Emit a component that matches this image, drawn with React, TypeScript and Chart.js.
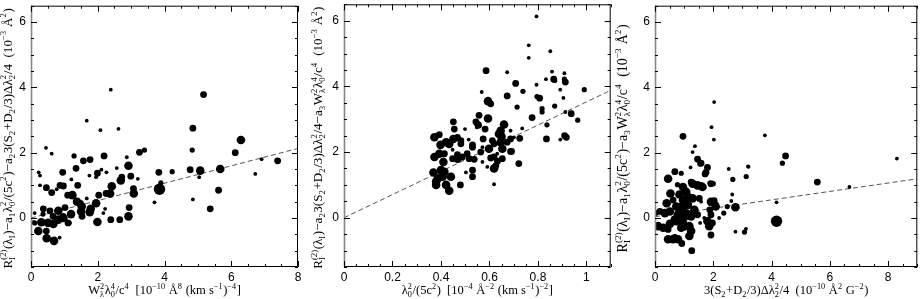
import React, { useEffect, useRef } from 'react';
import { Chart, registerables } from 'chart.js';
Chart.register(...registerables);

type P = [number, number, number]; // x, y, weight class (1..5)

// ---------- Panel 1 : W^2 lambda^4 / c^4 ----------
const panel1Points: P[] = [
  [0.45,2.15,1],[1.67,2.98,1],[2.39,3.93,1],[2.08,2.69,1],[2.62,2.73,1],[5.17,3.78,3],[4.85,2.75,3],[6.29,2.39,4],[3.25,2.01,3],[3.4,2.08,2],[4.83,2.08,2],[6.12,2.0,3],
  [0.62,1.97,1],[1.29,1.9,2],[1.57,1.75,3],[1.77,1.79,3],[2.19,1.9,3],[2.87,1.86,1],[2.92,1.6,4],[2.57,1.53,1],
  [0.23,1.4,1],[0.27,1.3,1],[0.95,1.4,3],[1.35,1.52,3],[1.75,1.3,1],[1.95,1.25,1],[1.99,1.37,3],[2.11,1.48,1],[2.26,1.4,1],[2.69,1.15,4],[2.72,1.25,3],[2.99,1.28,3],[3.2,1.2,1],
  [0.27,1.0,1],[0.46,0.93,3],[0.62,0.78,3],[0.77,0.88,1],[0.87,1.0,3],[0.97,0.98,3],[1.21,1.18,1],[1.4,1.0,3],[1.1,0.7,3],[1.24,0.7,4],[1.38,0.5,4],[1.48,0.45,3],[1.67,0.6,1],[2.03,0.7,3],[2.25,0.75,3],[2.42,0.97,4],[2.37,0.75,4],[3.07,0.9,3],[3.08,0.75,4],
  [1.95,0.45,4],[1.79,0.28,4],[2.22,0.28,1],[2.17,0.15,1],[2.94,0.32,3],[2.92,0.05,4],[2.39,-0.05,3],[1.99,-0.12,4],
  [0.07,-0.13,1],[0.11,0.15,1],[0.37,0.28,3],[0.36,0.12,2],[0.57,0.22,3],[0.66,0.05,3],[0.82,0.22,4],[1.02,0.32,3],[0.96,0.05,3],[1.2,0.12,4],[1.5,0.2,4],[1.52,0.35,4],[1.53,0.05,3],[1.76,0.18,4],[1.17,-0.15,1],[2.66,-0.05,3],
  [0.11,-0.15,2],[0.31,-0.13,4],[0.51,-0.15,4],[0.67,-0.18,4],[0.82,-0.05,4],[0.97,0.0,4],[1.11,-0.15,3],
  [0.22,-0.4,4],[0.46,-0.4,3],[0.47,-0.62,4],[0.69,-0.7,4],[0.86,-0.6,1],
  [3.83,1.4,3],[3.89,1.08,2],[3.85,0.88,5],[3.7,0.48,1],[4.23,1.42,2],[4.77,1.48,3],[5.07,1.45,4],[5.04,1.25,1],[4.85,0.57,1],[5.37,0.28,3],[5.67,1.5,4],[5.62,0.85,3],[6.72,1.35,1],[6.91,1.8,1],[7.39,1.75,3],
];
const fit1X = [0, 8];
const fit1Y = [0.0, 2.13];

// ---------- Panel 2 : lambda^2 / (5c^2) ----------
const panel2Points: P[] = [
  [0.794,6.13,1],[0.762,5.25,1],[0.762,4.87,1],[0.851,5.07,1],[0.586,4.48,3],[0.673,4.43,1],[0.568,3.83,1],[0.708,4.09,3],[0.738,3.85,2],[0.673,3.71,3],[0.794,4.05,1],[0.796,3.69,2],[0.807,3.64,3],[0.833,4.22,1],[0.858,4.45,1],[0.865,4.22,3],[0.869,4.18,2],[0.892,3.9,1],[0.909,4.4,1],[0.909,4.22,2],[0.913,4.13,3],[0.905,3.65,1],[0.991,3.9,2],[0.594,3.55,4],[0.605,3.47,3],[0.714,3.37,2],[0.817,3.32,2],[0.817,3.22,2],[0.869,3.4,2],[0.913,3.22,1],[0.937,3.17,3],[0.964,2.97,2],[0.837,2.83,2],[0.776,3.05,3],[0.557,3.12,3],[0.594,3.02,4],
  [0.451,2.92,3],[0.499,2.7,1],[0.544,2.92,3],[0.555,2.82,3],[0.548,2.75,1],[0.582,2.7,3],[0.66,2.84,4],[0.687,2.65,1],[0.735,2.72,1],[0.646,2.65,4],[0.639,2.55,4],[0.65,2.47,4],[0.373,2.45,4],[0.393,2.53,3],[0.451,2.4,4],[0.468,2.45,3],[0.482,2.35,3],[0.514,2.38,1],[0.574,2.4,3],[0.612,2.35,3],[0.687,2.4,3],[0.701,2.45,1],[0.725,2.42,3],[0.835,2.4,3],[0.91,2.5,3],[0.917,2.45,3],[0.892,2.38,1],
  [0.398,2.22,4],[0.434,2.25,4],[0.482,2.25,3],[0.53,2.22,3],[0.53,2.15,3],[0.571,2.15,1],[0.598,2.1,4],[0.619,2.25,3],[0.653,2.1,4],[0.687,2.02,3],[0.448,2.07,1],
  [0.373,1.85,4],[0.414,1.95,3],[0.448,1.8,3],[0.468,1.92,3],[0.488,1.85,3],[0.508,1.95,3],[0.537,1.78,3],[0.571,1.7,1],[0.605,1.82,3],[0.632,1.95,1],[0.653,1.8,3],[0.626,1.58,3],[0.591,1.55,1],[0.721,1.65,3],[0.369,1.38,4],[0.4,1.45,4],[0.407,1.25,4],[0.38,1.1,4],[0.38,1.0,4],[0.421,1.0,4],[0.441,1.25,4],[0.434,0.82,4],[0.48,1.0,3],[0.503,1.38,1],[0.53,1.45,3],[0.53,1.25,3],[0.619,1.02,1],
  [0.393,1.95,4],[0.41,1.7,4],[0.387,1.2,4],[0.414,1.4,4],[0.468,1.8,4],[0.516,1.8,3],[0.564,2.0,3],[0.619,1.85,3],[0.619,1.5,4],[0.633,1.72,3],[0.646,2.3,4],[0.673,2.3,3],[0.691,2.02,3],[0.455,2.7,3],[0.421,2.3,4],[0.551,2.85,3],
];
const fit2X = [0, 1.1];
const fit2Y = [0.0, 3.88];

// ---------- Panel 3 : 3(S2+D2/3) dl^2 / 4 ----------
const panel3Points: P[] = [
  [2.03,3.55,1],[1.94,2.78,1],[2.02,2.4,1],[0.96,2.5,3],[1.37,2.2,1],[3.77,2.53,1],[1.29,2.02,1],
  [4.48,1.9,3],[4.37,1.68,2],[8.3,1.82,1],[2.53,1.5,1],[3.21,1.57,1],[3.13,1.27,2],[5.57,1.1,3],[6.67,0.95,1],[4.17,0.48,1],[4.17,-0.1,5],[2.76,0.33,4],[2.76,-0.42,1],[3.12,-0.33,1],[3.07,-0.43,2],[2.65,0.72,1],[2.48,0.35,2],[2.36,0.15,2],[2.2,0.0,1],[2.08,0.4,3],[2.03,0.53,3],[1.92,0.47,3],[1.88,0.25,3],[1.92,0.1,3],[1.97,-0.15,3],[1.92,-0.52,3],[0.92,-0.78,3],[1.26,-1.0,3],[0.45,-0.65,4],[0.62,-0.65,4],[0.79,-0.65,4],[0.0,0.15,3],[0.11,-0.25,4],[0.28,-0.3,4],[0.45,-0.35,3],
  [1.46,1.8,3],[1.58,1.68,3],[1.8,1.55,3],[1.75,1.4,3],[1.22,1.55,1],[0.68,1.42,3],[0.45,1.2,4],[0.9,1.37,2],[0.77,1.02,2],[0.96,0.95,4],[1.24,1.1,3],[1.46,1.0,4],[1.63,0.95,4],[1.86,1.08,1],[2.0,1.05,2],[0.4,0.45,4],[0.62,0.55,3],[0.73,0.35,4],[0.96,0.55,4],[1.13,0.4,4],[1.35,0.25,4],[1.24,0.05,4],[0.84,0.1,5],[0.51,0.2,4],[0.17,0.2,3],[0.68,-0.05,4],[0.96,-0.15,4],[1.18,-0.25,4],[1.24,-0.4,4],[1.01,-0.28,3],[1.52,0.6,3],[1.55,-0.15,1],[1.46,0.1,3],
  [1.49,1.78,2],[1.54,1.65,2],[1.72,1.35,3],[3.19,1.58,1],[2.67,1.18,2],[1.29,1.05,4],[1.58,1.0,3],[1.92,1.05,3],[0.53,0.75,4],[0.84,0.72,4],[1.07,0.8,4],[1.13,0.65,4],[1.29,0.6,4],[1.58,0.5,1],[1.92,0.5,4],[2.08,0.35,4],[2.62,0.52,1],[0.34,0.15,4],[0.9,0.3,5],[1.07,0.1,5],[0.51,-0.18,4],[0.73,-0.1,4],[0.9,-0.3,4],[1.18,-0.55,4],[1.8,-0.1,4],[1.86,-0.25,4],[1.69,0.0,1],[0.68,-0.62,4],
];
const fit3X = [0, 9];
const fit3Y = [0.04, 1.2];

// ---------- Axes ----------
const yRange = [-1.5, 6.5];
const yMajor = [0, 2, 4, 6];
const x1Major = [0, 2, 4, 6, 8];
const x2Major = [0, 0.2, 0.4, 0.6, 0.8, 1];
const x3Major = [0, 2, 4, 6, 8];

const yTitle1 = 'R_{I}^{(2)}(λ_{I})−a_{1}λ_{0}^{2}/(5c^{2})−a_{2}3(S_{2}+D_{2}/3)Δλ_{2}^{2}/4  (10^{−3} Å^{2})';
const yTitle2 = 'R_{I}^{(2)}(λ_{I})−a_{2}3(S_{2}+D_{2}/3)Δλ_{2}^{2}/4−a_{3}W_{λ}^{2}λ_{0}^{4}/c^{4}  (10^{−3} Å^{2})';
const yTitle3 = 'R_{I}^{(2)}(λ_{I})−a_{1}λ_{0}^{2}/(5c^{2})−a_{3}W_{λ}^{2}λ_{0}^{4}/c^{4}  (10^{−3} Å^{2})';
const xTitle1 = 'W_{λ}^{2}λ_{0}^{4}/c^{4}  [10^{−10} Å^{8} (km s^{−1})^{−4}]';
const xTitle2 = 'λ_{0}^{2}/(5c^{2})  [10^{−4} Å^{−2} (km s^{−1})^{−2}]';
const xTitle3 = '3(S_{2}+D_{2}/3)Δλ_{2}^{2}/4  (10^{−10} Å^{2} G^{−2})';

const RADIUS = [0, 1.9, 2.6, 3.4, 4.3, 5.7];
const SERIF = '"Liberation Serif", "DejaVu Serif", serif';
const SANS = '"Liberation Sans", "DejaVu Sans", sans-serif';

type Tok = { t: 'n'; s: string } | { t: 's'; sub: string; sup: string };

function parseRich(s: string): Tok[] {
  const out: Tok[] = [];
  let i = 0;
  let buf = '';
  const readGroup = () => {
    const j = s.indexOf('}', i);
    const g = s.slice(i + 1, j);
    i = j + 1;
    return g;
  };
  while (i < s.length) {
    const ch = s[i];
    if (ch === '_' || ch === '^') {
      if (buf) { out.push({ t: 'n', s: buf }); buf = ''; }
      i++;
      const g1 = readGroup();
      let sub = ch === '_' ? g1 : '';
      let sup = ch === '^' ? g1 : '';
      const other = ch === '_' ? '^' : '_';
      if (s[i] === other) {
        i++;
        const g2 = readGroup();
        if (ch === '_') sup = g2; else sub = g2;
      }
      out.push({ t: 's', sub, sup });
    } else {
      buf += ch;
      i++;
    }
  }
  if (buf) out.push({ t: 'n', s: buf });
  return out;
}

function drawRich(ctx: CanvasRenderingContext2D, text: string, size: number, maxLen: number) {
  const toks = parseRich(text);
  const measure = (sz: number) => {
    const big = `${sz}px ${SERIF}`;
    const small = `${sz * 0.66}px ${SERIF}`;
    const ws = toks.map((tk) => {
      if (tk.t === 'n') { ctx.font = big; return ctx.measureText(tk.s).width; }
      ctx.font = small;
      return Math.max(ctx.measureText(tk.sub).width, ctx.measureText(tk.sup).width) + 0.6;
    });
    return { ws, total: ws.reduce((a, b) => a + b, 0), big, small };
  };
  let m = measure(size);
  let sz = size;
  if (m.total > maxLen) { sz = size * maxLen / m.total; m = measure(sz); }
  let cx = -m.total / 2;
  ctx.textAlign = 'left';
  ctx.textBaseline = 'alphabetic';
  toks.forEach((tk, k) => {
    if (tk.t === 'n') {
      ctx.font = m.big;
      ctx.fillText(tk.s, cx, 0);
    } else {
      ctx.font = m.small;
      if (tk.sup) ctx.fillText(tk.sup, cx, -sz * 0.4);
      if (tk.sub) ctx.fillText(tk.sub, cx, sz * 0.25);
    }
    cx += m.ws[k];
  });
}

type Cfg = {
  left: number; w: number;
  pad: { left: number; right: number; top: number; bottom: number };
  points: P[]; fitX: number[]; fitY: number[];
  xMin: number; xMax: number; xMajor: number[]; xStep: number; xDec: number;
  yTitle: string; xTitle: string; yTitleX: number; yTitleLen: number;
};

const H = 299;

function makePlugin(cfg: Cfg) {
  return {
    id: 'frameTicks',
    afterDraw(chart: any) {
      const { ctx, chartArea: a, scales } = chart;
      const xs = scales.x;
      const ys = scales.y;
      ctx.save();
      ctx.strokeStyle = '#000';
      ctx.lineWidth = 1;
      ctx.beginPath();
      ctx.moveTo(a.left + 0.5, a.top + 0.5);
      ctx.lineTo(a.right - 0.5, a.top + 0.5);
      ctx.lineTo(a.right - 0.5, a.bottom - 0.5);
      ctx.lineTo(a.left, a.bottom - 0.5);
      ctx.stroke();
      ctx.strokeStyle = '#888';
      ctx.lineWidth = 1.6;
      ctx.beginPath();
      ctx.moveTo(a.left + 0.5, a.top);
      ctx.lineTo(a.left + 0.5, a.bottom);
      ctx.stroke();
      ctx.strokeStyle = '#000';
      ctx.lineWidth = 1;
      const isMajor = (v: number, majors: number[]) => majors.some((m) => Math.abs(m - v) < 1e-6);
      ctx.beginPath();
      for (let k = 0; ; k++) {
        const v = cfg.xMin + k * cfg.xStep;
        if (v > cfg.xMax + 1e-9) break;
        const px = Math.round(xs.getPixelForValue(v)) + 0.5;
        const len = isMajor(v, cfg.xMajor) ? 6 : 3;
        ctx.moveTo(px, a.bottom);
        ctx.lineTo(px, a.bottom - len);
        ctx.moveTo(px, a.top);
        ctx.lineTo(px, a.top + len);
      }
      for (let k = 0; ; k++) {
        const v = yRange[0] + k * 0.5;
        if (v > yRange[1] + 1e-9) break;
        const py = Math.round(ys.getPixelForValue(v)) + 0.5;
        const len = isMajor(v, yMajor) ? 6 : 3;
        ctx.moveTo(a.left, py);
        ctx.lineTo(a.left + len, py);
        ctx.moveTo(a.right, py);
        ctx.lineTo(a.right - len, py);
      }
      ctx.stroke();
      ctx.fillStyle = '#000';
      ctx.font = `12px ${SANS}`;
      ctx.textAlign = 'center';
      ctx.textBaseline = 'middle';
      cfg.xMajor.forEach((v) => {
        const lbl = cfg.xDec ? (v === 0 || v === 1 ? String(v) : v.toFixed(cfg.xDec)) : String(v);
        ctx.fillText(lbl, xs.getPixelForValue(v), a.bottom + 10.5);
      });
      ctx.textAlign = 'right';
      yMajor.forEach((v) => {
        ctx.fillText(String(v), a.left - 5, ys.getPixelForValue(v));
      });
      ctx.save();
      ctx.translate((a.left + a.right) / 2, H - 5);
      drawRich(ctx, cfg.xTitle, 12.5, 400);
      ctx.restore();
      ctx.save();
      ctx.translate(cfg.yTitleX, (a.top + a.bottom) / 2 + 2);
      ctx.rotate(-Math.PI / 2);
      ctx.translate(0, 4.5);
      drawRich(ctx, cfg.yTitle, 14, cfg.yTitleLen);
      ctx.restore();
      ctx.restore();
    },
  };
}

function Panel({ cfg }: { cfg: Cfg }) {
  const ref = useRef<HTMLCanvasElement>(null);
  useEffect(() => {
    const c = ref.current!;
    const chart = new Chart(c, {
      type: 'scatter',
      data: {
        datasets: [
          {
            type: 'line',
            data: cfg.fitX.map((x, i) => ({ x, y: cfg.fitY[i] })),
            borderColor: '#555',
            borderWidth: 1,
            borderDash: [5, 3],
            pointRadius: 0,
            showLine: true,
            fill: false,
            order: 2,
          } as any,
          {
            data: cfg.points.map((p) => ({ x: p[0], y: p[1] })),
            pointRadius: cfg.points.map((p) => RADIUS[p[2]]),
            pointHoverRadius: cfg.points.map((p) => RADIUS[p[2]]),
            backgroundColor: '#000',
            borderColor: '#000',
            borderWidth: 0,
            order: 1,
          },
        ],
      },
      options: {
        responsive: false,
        animation: false,
        devicePixelRatio: 1,
        events: [],
        layout: { padding: cfg.pad },
        plugins: { legend: { display: false }, tooltip: { enabled: false } },
        scales: {
          x: { type: 'linear', display: false, min: cfg.xMin, max: cfg.xMax },
          y: { type: 'linear', display: false, min: yRange[0], max: yRange[1] },
        },
      },
      plugins: [makePlugin(cfg)],
    } as any);
    return () => chart.destroy();
  }, [cfg]);
  return (
    <canvas
      ref={ref}
      width={cfg.w}
      height={H}
      style={{ position: 'absolute', left: cfg.left, top: 0, width: cfg.w, height: H }}
    />
  );
}

const panels: Cfg[] = [
  {
    left: 0, w: 310, pad: { left: 31, right: 12, top: 0, bottom: 32 },
    points: panel1Points, fitX: fit1X, fitY: fit1Y,
    xMin: 0, xMax: 8, xMajor: x1Major, xStep: 0.5, xDec: 0,
    yTitle: yTitle1, xTitle: xTitle1, yTitleX: 7, yTitleLen: 260,
  },
  {
    left: 310, w: 305, pad: { left: 34, right: 2, top: 0, bottom: 32 },
    points: panel2Points, fitX: fit2X, fitY: fit2Y,
    xMin: 0, xMax: 1.1, xMajor: x2Major, xStep: 0.05, xDec: 1,
    yTitle: yTitle2, xTitle: xTitle2, yTitleX: 7.5, yTitleLen: 262,
  },
  {
    left: 615, w: 308, pad: { left: 40, right: 1, top: 0, bottom: 32 },
    points: panel3Points, fitX: fit3X, fitY: fit3Y,
    xMin: 0, xMax: 9, xMajor: x3Major, xStep: 0.5, xDec: 0,
    yTitle: yTitle3, xTitle: xTitle3, yTitleX: 7, yTitleLen: 260,
  },
];

export default function App() {
  return (
    <div style={{ position: 'absolute', left: 0, top: 0, width: 923, height: H, background: '#fff' }}>
      {panels.map((p, i) => (
        <Panel key={i} cfg={p} />
      ))}
    </div>
  );
}
